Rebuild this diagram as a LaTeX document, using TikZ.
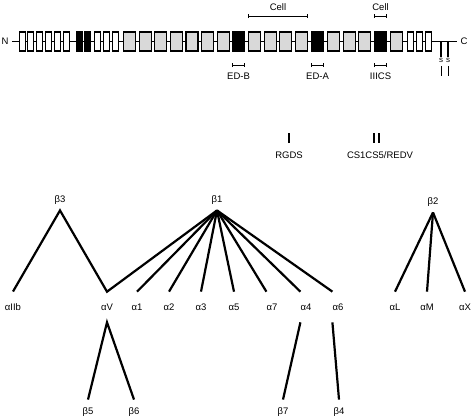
\documentclass[tikz,border=0pt]{standalone}
\usepackage{fontspec}
\setmainfont{Liberation Sans}
\usetikzlibrary{arrows.meta,positioning}

\begin{document}
\begin{tikzpicture}[x=1pt, y=-1pt,
  font=\fontsize{9.5}{11}\selectfont,
  backbone/.style={line width=1.1pt},
  module/.style={draw, line width=1.1pt, minimum height=19pt, inner sep=0pt, anchor=west},
  narrow/.style={module, minimum width=6pt, fill=white},
  wide/.style={module, minimum width=12pt, fill=gray!30},
  span/.style={line width=0.9pt, {Bar[width=4pt]}-{Bar[width=4pt]}},
  site/.style={line width=2pt},
  subunit/.style={inner sep=0pt},
  link/.style={line width=2.2pt, line join=miter}
]
\useasboundingbox (0,0) rectangle (474,418);

% fibronectin chain
\node (N) at (5,41.5) {N};
\node (C) at (464,41.5) {C};
\draw[backbone] (N) -- (C);
\foreach \x [count=\i] in {18.5,27.3,36.1,44.9,53.7,62.5,94,102.8,111.6,406.5,415.5,424.5}
  \node[narrow] (n\i) at (\x,41.5) {};
\foreach \x [count=\i] in {75.5,84.3}
  \node[narrow, fill=black] (k\i) at (\x,41.5) {};
\foreach \x [count=\i] in {123,138.6,154.2,169.8,185.4,201,216.6,248,263.6,279.2,294.8,327,342.6,358.2,390}
  \node[wide] (g\i) at (\x,41.5) {};
\foreach \x/\n in {232/edb, 311/eda, 374/iiics}
  \node[wide, fill=black] (\n) at (\x,41.5) {};

% disulfide bonds
\node[font=\fontsize{8}{9}\selectfont, inner sep=1pt] (s1) at (441,60) {s};
\node[font=\fontsize{8}{9}\selectfont, inner sep=1pt] (s2) at (448,60) {s};
\foreach \s in {s1,s2} {
  \draw[backbone] (\s.north) -- (\s.north |- C);
  \draw[line width=0.9pt] ([yshift=-3pt]\s.south) -- ++(0,10);
}

% domains
\draw[span] (g8.west |- 0,16) -- node[above=2pt] (cellA) {Cell} (g11.east |- 0,16);
\draw[span] (iiics.west |- 0,16) -- node[above=2pt] (cellB) {Cell} (iiics.east |- 0,16);
\draw[span] (edb.west |- 0,65) -- node[below=4pt] (edbLabel) {ED-B} (edb.east |- 0,65);
\draw[span] (eda.west |- 0,65) -- node[below=4pt] (edaLabel) {ED-A} (eda.east |- 0,65);
\draw[span] (iiics.west |- 0,65) -- node[below=4pt] (iiicsLabel) {IIICS} (iiics.east |- 0,65);

% binding sites
\node (rgds) at (289,155) {RGDS};
\node (cs) at (380,155) {CS1CS5/REDV};
\draw[site] ([yshift=5pt]rgds.north) -- ++(0,-10);
\draw[site, line width=2.6pt] ([xshift=-6pt,yshift=5pt]cs.north) -- ++(0,-10);
\draw[site, line width=2.6pt] ([xshift=-1pt,yshift=5pt]cs.north) -- ++(0,-10);

% integrin subunits
\node[subunit, outer ysep=6pt] (b3) at (60,200) {β3};
\node[subunit, outer ysep=6pt] (b1) at (217,200) {β1};
\node[subunit, outer ysep=6pt] (b2) at (433,202) {β2};
\foreach \n/\x/\t in {aIIb/13/αIIb, aV/107/αV, a1/137/α1, a2/169/α2, a3/201/α3, a5/234/α5,
    a7/272/α7, a4/306/α4, a6/338/α6, aL/395/αL, aM/427/αM, aX/465/αX}
  \node[subunit, outer ysep=12pt] (\n) at (\x,307) {\t};
\foreach \n/\x/\t in {b5/88/β5, b6/134/β6, b7/283/β7, b4/339/β4}
  \node[subunit, outer ysep=8pt] (\n) at (\x,412) {\t};

\draw[link] (aIIb.north) -- (b3.south) -- (aV.north) -- (b1.south);
\foreach \a in {a1,a2,a3,a5}
  \draw[link] (b1.south) -- (\a.north);
\foreach \a in {a7,a4,a6}
  \draw[link] (b1.south) -- (\a.north west);
\foreach \a in {aL,aM,aX}
  \draw[link] (b2.south) -- (\a.north);
\draw[link] (b5.north) -- (aV.south) -- (b6.north);
\draw[link] (a4.south west) -- (b7.north);
\draw[link] (a6.south west) -- (b4.north);
\end{tikzpicture}
\end{document}
